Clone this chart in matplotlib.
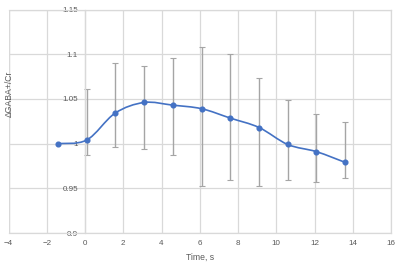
import matplotlib
matplotlib.use("Agg")
import matplotlib.pyplot as plt
from matplotlib.path import Path
from matplotlib.patches import PathPatch
import numpy as np

plt.rcParams['font.family'] = ['Liberation Sans', 'DejaVu Sans']

time_s = [-1.43, 0.09, 1.57, 3.09, 4.59, 6.1, 7.6, 9.1, 10.6, 12.1, 13.6]
gaba_cr = [1.000, 1.004, 1.034, 1.046, 1.043, 1.039, 1.0285, 1.018, 0.999, 0.991, 0.979]
err_upper = [1.000, 1.061, 1.090, 1.087, 1.096, 1.108, 1.100, 1.073, 1.049, 1.033, 1.024]
err_lower = [1.000, 0.987, 0.9965, 0.9935, 0.9875, 0.953, 0.959, 0.953, 0.959, 0.9566, 0.962]
x_ticks = [-4, -2, 0, 2, 4, 6, 8, 10, 12, 14, 16]
y_ticks = [0.9, 0.95, 1.0, 1.05, 1.1, 1.15]
y_tick_labels = ["0.9", "0.95", "1", "1.05", "1.1", "1.15"]

blue = "#4472C4"
grid_c = "#D9D9D9"
text_c = "#595959"
err_c = "#A5A5A5"

fig = plt.figure(figsize=(4.0, 2.65), dpi=100)
ax = fig.add_axes([8.5/400, 1 - 233/265, (391-8.5)/400, (233-9.5)/265])

ax.set_xlim(-4, 16)
ax.set_ylim(0.9, 1.15)
ax.set_xticks(x_ticks)
ax.set_yticks(y_ticks)
ax.set_yticklabels(y_tick_labels)
ax.grid(True, color=grid_c, linewidth=0.9)
ax.set_axisbelow(True)
for s in ['top', 'right', 'bottom', 'left']:
    ax.spines[s].set_color(grid_c)
    ax.spines[s].set_linewidth(0.9)
ax.spines['left'].set_position(('data', 0))
ax.plot([-4, -4], [0.9, 1.15], color=grid_c, linewidth=0.9, zorder=0.5)
ax.tick_params(length=0, labelsize=5.8, labelcolor=text_c)
ax.tick_params(axis='y', pad=5)
ax.tick_params(axis='x', pad=5)

# error bars (skip first point, which has none)
t = np.array(time_s)
m = np.array(gaba_cr)
up = np.array(err_upper) - m
lo = m - np.array(err_lower)
ax.errorbar(t[1:], m[1:], yerr=[lo[1:], up[1:]], fmt='none', ecolor=err_c,
            elinewidth=1.0, capsize=2, capthick=0.8, zorder=2)

# Excel-style smoothed line (Bezier through points)
pts = np.column_stack([t, m])
verts = [tuple(pts[0])]
codes = [Path.MOVETO]
n = len(pts)
for i in range(n - 1):
    p0 = pts[i - 1] if i > 0 else pts[i]
    p1 = pts[i]
    p2 = pts[i + 1]
    p3 = pts[i + 2] if i + 2 < n else pts[i + 1]
    c1 = p1 + (p2 - p0) / 6.0
    c2 = p2 - (p3 - p1) / 6.0
    verts += [tuple(c1), tuple(c2), tuple(p2)]
    codes += [Path.CURVE4] * 3
ax.add_patch(PathPatch(Path(verts, codes), facecolor='none', edgecolor=blue,
                       linewidth=1.2, zorder=3))
ax.plot(t, m, linestyle='none', marker='o', markersize=3.4, color=blue, zorder=4)

ax.set_xlabel("Time, s", fontsize=6.2, color=text_c, labelpad=4)
ax.set_ylabel("ΔGABA+/Cr", fontsize=6.2, color=text_c)
ax.yaxis.set_label_coords(0.014, (233 - 94) / (233 - 9.5))

fig.savefig("out.png", dpi=100)
